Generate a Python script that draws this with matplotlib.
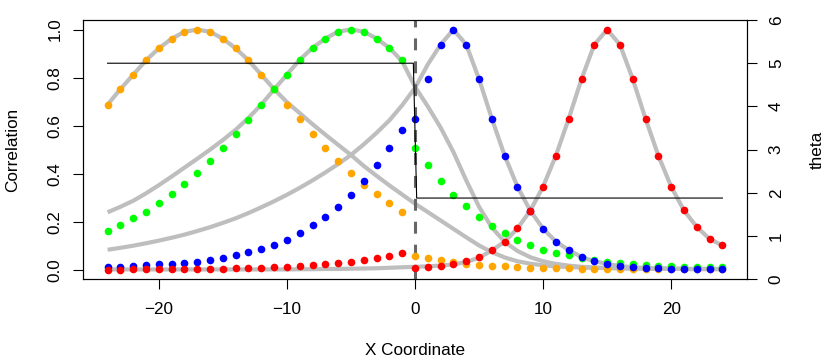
import numpy as np
import matplotlib
matplotlib.use("Agg")
import matplotlib.pyplot as plt

plt.rcParams['font.family'] = ['Liberation Sans', 'DejaVu Sans']
plt.rcParams['font.size'] = 12.3

# grid positions (integer x coordinates)
x = np.arange(-24, 25)

# correlation with the four reference points (dots)
corr_orange = [0.6875, 0.752, 0.812, 0.872, 0.922, 0.962, 0.991, 1.0, 0.991, 0.962,
               0.922, 0.872, 0.812, 0.752, 0.6875, 0.627, 0.565, 0.508, 0.454, 0.403,
               0.354, 0.315, 0.277, 0.242, 0.059, 0.047, 0.039, 0.032, 0.025, 0.021,
               0.017, 0.014, 0.011, 0.009, 0.007, 0.006, 0.005, 0.004, 0.003, 0.003,
               0.002, 0.002, 0.002, 0.002, 0.001, 0.001, 0.001, 0.001, 0.001]
corr_green = [0.160, 0.185, 0.214, 0.240, 0.276, 0.314, 0.356, 0.401, 0.454, 0.508,
              0.565, 0.625, 0.6875, 0.751, 0.8125, 0.874, 0.924, 0.9625, 0.992, 1.0,
              0.992, 0.9625, 0.924, 0.872, 0.506, 0.435, 0.369, 0.3125, 0.264, 0.221,
              0.182, 0.153, 0.124, 0.104, 0.083, 0.071, 0.060, 0.050, 0.040, 0.033,
              0.028, 0.023, 0.020, 0.017, 0.015, 0.013, 0.012, 0.011, 0.010]
corr_blue = [0.011, 0.0125, 0.015, 0.018, 0.022, 0.025, 0.029, 0.033, 0.040, 0.047,
             0.060, 0.072, 0.085, 0.104, 0.125, 0.153, 0.185, 0.219, 0.2625, 0.3125,
             0.369, 0.436, 0.507, 0.582, 0.628, 0.794, 0.9375, 1.0, 0.9375, 0.794,
             0.629, 0.475, 0.346, 0.246, 0.171, 0.117, 0.082, 0.053, 0.035, 0.024,
             0.015, 0.010, 0.007, 0.005, 0.004, 0.003, 0.002, 0.002, 0.002]
corr_red = [0.000, 0.000, 0.001, 0.001, 0.001, 0.002, 0.002, 0.003, 0.003, 0.004,
            0.005, 0.006, 0.008, 0.011, 0.013, 0.016, 0.019, 0.023, 0.028, 0.033,
            0.040, 0.048, 0.059, 0.070, 0.008, 0.010, 0.015, 0.022, 0.036, 0.053,
            0.081, 0.117, 0.172, 0.246, 0.346, 0.475, 0.629, 0.794, 0.9375, 1.0,
            0.9375, 0.794, 0.629, 0.475, 0.346, 0.247, 0.178, 0.128, 0.101]

# approximating correlation curves (grey)
fit_orange = [0.6875, 0.752, 0.812, 0.872, 0.922, 0.962, 0.991, 1.0, 0.991, 0.962,
              0.922, 0.872, 0.812, 0.752, 0.698, 0.652, 0.606, 0.5625, 0.520, 0.478,
              0.432, 0.391, 0.351, 0.313, 0.275, 0.240, 0.205, 0.170, 0.135, 0.101,
              0.073, 0.051, 0.035, 0.025, 0.018, 0.014, 0.011, 0.009, 0.008, 0.007,
              0.006, 0.005, 0.005, 0.004, 0.004, 0.003, 0.003, 0.003, 0.003]
fit_green = [0.239, 0.262, 0.287, 0.318, 0.352, 0.388, 0.425, 0.462, 0.500, 0.540,
             0.583, 0.632, 0.6875, 0.751, 0.8125, 0.874, 0.924, 0.9625, 0.992, 1.0,
             0.992, 0.9625, 0.924, 0.868, 0.762, 0.680, 0.592, 0.490, 0.372, 0.262,
             0.176, 0.116, 0.078, 0.052, 0.035, 0.024, 0.017, 0.012, 0.009, 0.007,
             0.006, 0.005, 0.004, 0.004, 0.004, 0.003, 0.003, 0.003, 0.003]
fit_blue = [0.083, 0.091, 0.100, 0.110, 0.121, 0.133, 0.146, 0.161, 0.177, 0.195,
            0.214, 0.236, 0.260, 0.285, 0.312, 0.341, 0.372, 0.405, 0.440, 0.478,
            0.522, 0.570, 0.622, 0.685, 0.757, 0.855, 0.9375, 1.0, 0.9375, 0.794,
            0.629, 0.475, 0.346, 0.246, 0.171, 0.117, 0.082, 0.053, 0.035, 0.024,
            0.015, 0.010, 0.007, 0.005, 0.004, 0.003, 0.002, 0.002, 0.002]
fit_red = [0.001, 0.001, 0.001, 0.001, 0.001, 0.001, 0.001, 0.001, 0.001, 0.001,
           0.001, 0.001, 0.001, 0.001, 0.001, 0.002, 0.002, 0.003, 0.003, 0.004,
           0.005, 0.006, 0.008, 0.010, 0.012, 0.014, 0.017, 0.022, 0.032, 0.050,
           0.080, 0.117, 0.172, 0.246, 0.346, 0.475, 0.629, 0.794, 0.9375, 1.0,
           0.9375, 0.794, 0.629, 0.475, 0.346, 0.247, 0.178, 0.128, 0.101]

# range parameter theta (step at x = 0)
theta_x = [-24, -0.13, 0.13, 24]
theta = [5.0, 5.0, 1.88, 1.88]

fig = plt.figure(figsize=(8.3, 3.63), dpi=100)
ax = fig.add_axes([0.1, 0.2306, 0.8, 0.7143])

for fit in (fit_orange, fit_green, fit_blue, fit_red):
    ax.plot(x, fit, color='#BEBEBE', lw=3, solid_capstyle='butt', zorder=2)

ax.axvline(0, color='#666666', lw=2.2, dashes=(3.9, 3.6), zorder=2.5)

for vals, col in ((corr_orange, '#FFA500'), (corr_green, '#00FF00'),
                  (corr_blue, '#0000FF'), (corr_red, '#FF0000')):
    ax.plot(x, vals, ls='none', marker='o', ms=5.5, mfc=col, mec='none', zorder=3)

ax.set_xlim(-25.92, 25.92)
ax.set_ylim(-0.04, 1.04)
ax.set_xticks([-20, -10, 0, 10, 20])
ax.set_yticks([0, 0.2, 0.4, 0.6, 0.8, 1.0])
ax.set_yticklabels(['0.0', '0.2', '0.4', '0.6', '0.8', '1.0'])
ax.tick_params(axis='x', direction='out', length=7.2, width=0.8, pad=9)
ax.tick_params(axis='y', direction='out', length=7.2, width=0.8, pad=7.5,
               labelrotation=90)
for lbl in ax.get_yticklabels():
    lbl.set_va('center')
for sp in ax.spines.values():
    sp.set_linewidth(0.8)

ax.set_xlabel('X Coordinate')
ax.xaxis.set_label_coords(0.5, -0.2476)
ax.set_ylabel('Correlation')
ax.yaxis.set_label_coords(-0.095, 0.5)

ax2 = ax.twinx()
ax2.plot(theta_x, theta, color='black', lw=0.8)
ax2.set_ylim(0, 6)
ax2.set_yticks(range(0, 7))
ax2.tick_params(axis='y', direction='out', length=7.2, width=0.8, pad=8.5,
                labelrotation=90)
for lbl in ax2.get_yticklabels():
    lbl.set_va('center')
for sp in ax2.spines.values():
    sp.set_linewidth(0.8)
ax2.set_ylabel('theta')
ax2.yaxis.set_label_coords(1.0949, 0.5)

fig.savefig('out.png', dpi=100)
